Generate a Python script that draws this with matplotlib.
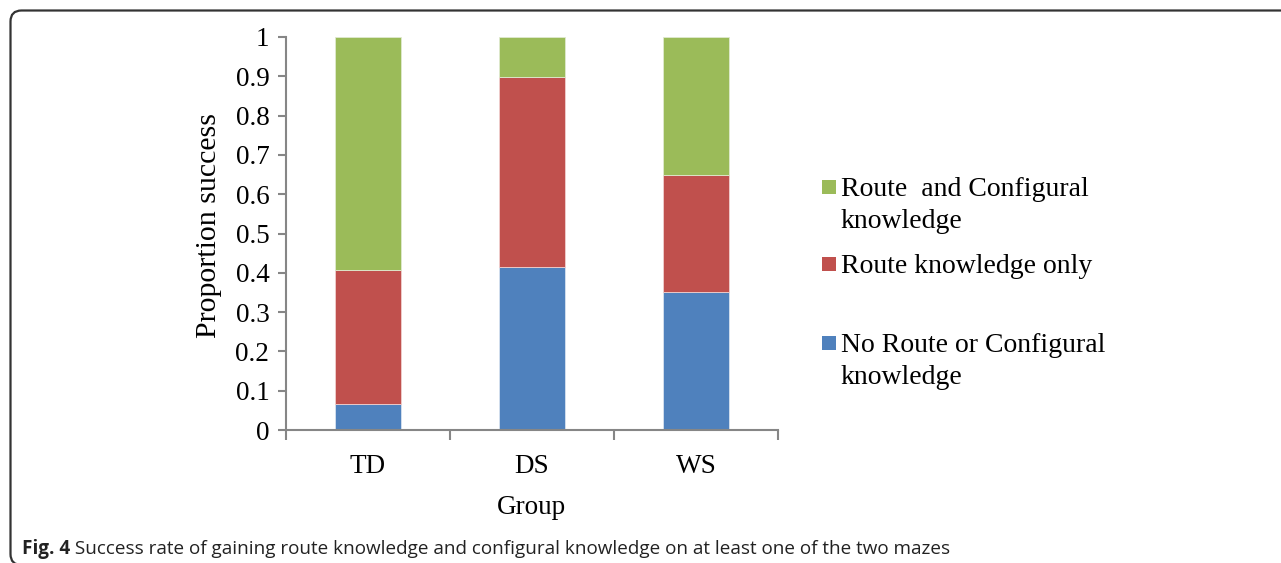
import matplotlib.pyplot as plt
from matplotlib.patches import FancyBboxPatch, Rectangle
from matplotlib.transforms import IdentityTransform

groups = ["TD", "DS", "WS"]
no_knowledge = [0.065, 0.414, 0.350]
route_only = [0.343, 0.483, 0.300]
route_and_config = [0.592, 0.103, 0.350]

series_labels = [
    ["Route  and Configural", "knowledge"],
    ["Route knowledge only"],
    ["No Route or Configural", "knowledge"],
]
series_colors = ["#9BBB59", "#C0504D", "#4F81BD"]
yticks = [0, 0.1, 0.2, 0.3, 0.4, 0.5, 0.6, 0.7, 0.8, 0.9, 1]

caption_bold = "Fig. 4"
caption_rest = " Success rate of gaining route knowledge and configural knowledge on at least one of the two mazes"

serif = "Liberation Serif"
axis_gray = "#868686"

fig = plt.figure(figsize=(12.81, 5.63), dpi=100)
ax = fig.add_axes([286 / 1281, 133 / 563, 492 / 1281, 393 / 563])

x = list(range(len(groups)))
bottom2 = [a + b for a, b in zip(no_knowledge, route_only)]
ax.bar(x, no_knowledge, width=0.4, color=series_colors[2], edgecolor="#d8e2f0", linewidth=0.6)
ax.bar(x, route_only, width=0.4, bottom=no_knowledge, color=series_colors[1], edgecolor="#f0d0cf", linewidth=0.6)
ax.bar(x, route_and_config, width=0.4, bottom=bottom2, color=series_colors[0], edgecolor="#e0ead0", linewidth=0.6)

ax.set_xlim(-0.5, len(groups) - 0.5)
ax.set_ylim(0, 1)

ax.set_yticks(yticks)
ax.set_yticklabels([f"{t:g}" for t in yticks], fontfamily=serif, fontsize=19.5)
ax.set_xticks(x)
ax.set_xticklabels(groups, fontfamily=serif, fontsize=19.5)
ax.set_xticks([i - 0.5 for i in range(len(groups) + 1)], minor=True)
ax.tick_params(axis="x", which="major", length=0, pad=17)
ax.tick_params(axis="x", which="minor", length=7, width=1.5, color=axis_gray, direction="out")
ax.tick_params(axis="y", length=6, width=1.5, color=axis_gray, direction="out", pad=6)

for side in ["top", "right"]:
    ax.spines[side].set_visible(False)
for side in ["left", "bottom"]:
    ax.spines[side].set_color(axis_gray)
    ax.spines[side].set_linewidth(1.5)

ax.set_ylabel("Proportion success", fontfamily=serif, fontsize=21.5)
ax.yaxis.set_label_coords(-0.130, 0.52)
ax.set_xlabel("Group", fontfamily=serif, fontsize=19.5)
ax.xaxis.set_label_coords(0.498, -0.165)

# legend drawn by hand, in pixel coordinates (origin top-left)
H = 563
legend_rows = [(187, [196, 228]), (264, [273]), (343, [352, 384])]
for (sq_y, baselines), lines, col in zip(legend_rows, series_labels, series_colors):
    fig.patches.append(Rectangle((822, H - sq_y - 7), 14, 14, transform=IdentityTransform(),
                                 facecolor=col, edgecolor="none"))
    for line, base in zip(lines, baselines):
        fig.text(841 / 1281, (H - base) / H, line, fontfamily=serif, fontsize=20,
                 ha="left", va="baseline")

# caption
t = fig.text(22 / 1281, (H - 554) / H, caption_bold, fontfamily="Open Sans", fontweight="bold",
             fontsize=13.6, ha="left", va="baseline", color="#222222")
fig.canvas.draw()
bb = t.get_window_extent()
fig.text(bb.x1 / 1281, (H - 554) / H, caption_rest, fontfamily="Open Sans", fontsize=13.6,
         ha="left", va="baseline", color="#222222")

# rounded frame around the figure panel, bottom edge just below the canvas
frame = FancyBboxPatch((10.5, -2), 1300, H - 10.5 + 2, boxstyle="round,pad=0,rounding_size=11",
                       transform=IdentityTransform(), facecolor="none", edgecolor="#333333",
                       linewidth=1.6)
fig.patches.append(frame)

fig.savefig("out.png", dpi=100)
